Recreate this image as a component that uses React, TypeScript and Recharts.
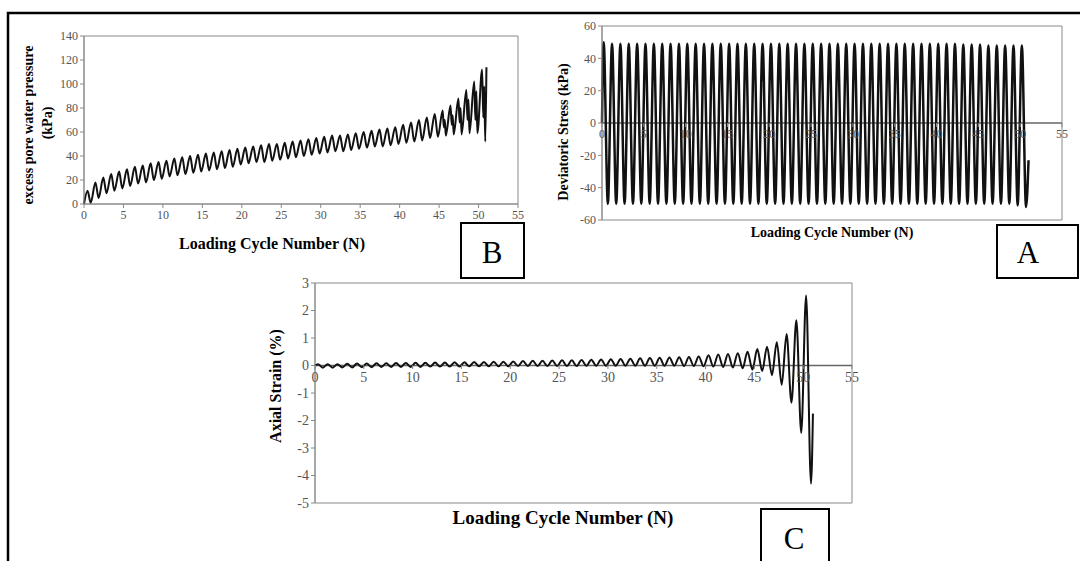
import React from "react";
import { LineChart, Line, XAxis, YAxis, ReferenceArea, ReferenceLine } from "recharts";

const SERIF = '"Liberation Serif", "Times New Roman", serif';
const AXIS = "#8a8a8a";
const TICK_TEXT = "#555";

const cycleTicks = [0, 5, 10, 15, 20, 25, 30, 35, 40, 45, 50, 55];

// B: excess pore water pressure (kPa), one peak / trough per loading cycle
const porePeaks = [
  11, 18, 22, 25, 27, 29, 31, 32, 34, 35,
  36, 38, 39, 40, 41, 42, 43, 44, 45, 46,
  47, 48, 49, 50, 50, 51, 52, 53, 54, 55,
  56, 57, 57, 58, 59, 60, 61, 62, 63, 64,
  66, 68, 70, 72, 75, 78, 82, 88, 95, 102,
  112,
];
const poreTroughs = [
  1, 5, 9, 11, 13, 15, 17, 18, 20, 21,
  23, 24, 25, 26, 27, 28, 29, 30, 31, 33,
  34, 35, 35, 36, 37, 38, 39, 40, 41, 42,
  43, 44, 44, 45, 46, 47, 48, 48, 49, 50,
  51, 52, 53, 55, 56, 57, 58, 58, 59, 59,
  52,
];
// extra wiggle in the last cycles (45..50)
const poreMidTroughs = [64, 66, 68, 70, 70, 72];
const poreSecondPeaks = [70, 74, 80, 87, 94, 98];
const poreLast = 114;

// A: deviatoric stress (kPa)
const stressPeaks = [
  50, 49, 49, 49, 49, 49, 49, 49, 49, 49,
  49, 49, 49, 49, 49, 49, 49, 49, 49, 49,
  49, 49, 49, 49, 49, 49, 49, 49, 49, 49,
  49, 49, 49, 49, 49, 49, 49, 49, 49, 49,
  49, 49, 49, 48.5, 48.5, 48.5, 48, 48, 48, 48,
  48,
];
const stressTroughs = [
  -50, -50, -50, -50, -50, -50, -50, -50, -50, -50,
  -50, -50, -50, -50, -50, -50, -50, -50, -50, -50,
  -50, -50, -50, -50, -50, -50, -50, -50, -50, -50,
  -50, -50, -50, -50, -50, -50, -50, -50, -50, -50,
  -50, -50, -50, -50, -50, -50, -50, -50, -50, -51,
  -52,
];
const stressLast = -23;

// C: axial strain (%)
const strainPeaks = [
  0.05, 0.05, 0.05, 0.06, 0.07, 0.07, 0.08, 0.08, 0.09, 0.09,
  0.1, 0.1, 0.11, 0.11, 0.12, 0.12, 0.13, 0.13, 0.14, 0.14,
  0.15, 0.16, 0.17, 0.17, 0.18, 0.19, 0.19, 0.2, 0.21, 0.22,
  0.23, 0.24, 0.25, 0.26, 0.27, 0.28, 0.29, 0.3, 0.31, 0.33,
  0.37, 0.4, 0.42, 0.45, 0.5, 0.6, 0.68, 0.85, 1.15, 1.65,
  2.55,
];
const strainTroughs = [
  -0.08, -0.08, -0.07, -0.07, -0.06, -0.06, -0.05, -0.05, -0.05, -0.05,
  -0.05, -0.04, -0.04, -0.04, -0.04, -0.03, -0.03, -0.03, -0.03, -0.03,
  -0.02, -0.02, -0.02, -0.02, -0.02, -0.02, -0.02, -0.01, -0.01, -0.01,
  -0.01, -0.01, -0.01, -0.01, -0.01, -0.01, -0.01, -0.02, -0.02, -0.03,
  -0.04, -0.05, -0.07, -0.1, -0.15, -0.2, -0.35, -0.7, -1.35, -2.45,
  -4.3,
];
const strainLast = -1.75;

type Pt = { x: number; y: number };

const poreData: Pt[] = [{ x: 0, y: 0 }];
porePeaks.forEach((p, n) => {
  poreData.push({ x: n + 0.45, y: p });
  if (n >= 45) {
    poreData.push({ x: n + 0.6, y: poreMidTroughs[n - 45] });
    poreData.push({ x: n + 0.72, y: poreSecondPeaks[n - 45] });
  }
  poreData.push({ x: n + 0.85, y: poreTroughs[n] });
});
poreData.push({ x: 51, y: poreLast });

const stressData: Pt[] = [{ x: 0, y: 0 }];
stressPeaks.forEach((p, n) => {
  stressData.push({ x: n + 0.2, y: p });
  stressData.push({ x: n + 0.7, y: stressTroughs[n] });
});
stressData.push({ x: 51, y: stressLast });

const strainData: Pt[] = [{ x: 0, y: 0 }];
strainPeaks.forEach((p, n) => {
  strainData.push({ x: n + 0.3, y: p });
  strainData.push({ x: n + 0.8, y: strainTroughs[n] });
});
strainData.push({ x: 51, y: strainLast });

// x tick labels drawn on the zero line (axis crosses at 0)
const zeroTick = (zeroY: number, fontSize: number) => (props: any) => {
  const { x, payload } = props;
  return (
    <g>
      <line x1={x} x2={x} y1={zeroY} y2={zeroY + 4} stroke={AXIS} />
      <text
        x={x}
        y={zeroY + 3 + fontSize}
        textAnchor="middle"
        fontSize={fontSize}
        fontFamily={SERIF}
        fill={TICK_TEXT}
      >
        {payload.value}
      </text>
    </g>
  );
};

const tickStyle = (size: number) => ({ fontSize: size, fontFamily: SERIF, fill: TICK_TEXT });

export default function App() {
  return (
    <div style={{ position: "absolute", left: 0, top: 0, width: 1080, height: 561, background: "#fff" }}>
      {/* B */}
      <div style={{ position: "absolute", left: 0, top: 0 }}>
        <LineChart width={540} height={280} data={poreData} margin={{ top: 36, right: 22, left: 44, bottom: 52 }}>
          <XAxis
            dataKey="x"
            type="number"
            domain={[0, 55]}
            ticks={cycleTicks}
            interval={0}
            height={24}
            tickSize={4}
            tick={tickStyle(12)}
            stroke={AXIS}
          />
          <YAxis
            type="number"
            domain={[0, 140]}
            ticks={[0, 20, 40, 60, 80, 100, 120, 140]}
            interval={0}
            width={40}
            tickSize={4}
            tick={tickStyle(12)}
            stroke={AXIS}
          />
          <ReferenceArea x1={0} x2={55} y1={0} y2={140} fill="none" stroke={AXIS} />
          <Line
            dataKey="y"
            type="monotone"
            stroke="#111"
            strokeWidth={2}
            dot={false}
            isAnimationActive={false}
          />
        </LineChart>
      </div>

      {/* A */}
      <div style={{ position: "absolute", left: 540, top: 0 }}>
        <LineChart width={540} height={280} data={stressData} margin={{ top: 26, right: 18, left: 32, bottom: 36 }}>
          <XAxis
            dataKey="x"
            type="number"
            domain={[0, 55]}
            ticks={cycleTicks}
            interval={0}
            height={24}
            axisLine={false}
            tickLine={false}
            tick={zeroTick(123, 12)}
          />
          <YAxis
            type="number"
            domain={[-60, 60]}
            ticks={[-60, -40, -20, 0, 20, 40, 60]}
            interval={0}
            width={30}
            tickSize={4}
            tick={tickStyle(12)}
            stroke={AXIS}
          />
          <ReferenceArea x1={0} x2={55} y1={-60} y2={60} fill="none" stroke={AXIS} />
          <ReferenceLine y={0} stroke="#666" strokeWidth={1.5} />
          <Line
            dataKey="y"
            type="monotone"
            stroke="#111"
            strokeWidth={2.5}
            dot={false}
            isAnimationActive={false}
          />
        </LineChart>
      </div>

      {/* C */}
      <div style={{ position: "absolute", left: 260, top: 270 }}>
        <LineChart width={620} height={291} data={strainData} margin={{ top: 13, right: 28, left: 25, bottom: 34 }}>
          <XAxis
            dataKey="x"
            type="number"
            domain={[0, 55]}
            ticks={cycleTicks}
            interval={0}
            height={24}
            axisLine={false}
            tickLine={false}
            tick={zeroTick(95, 14)}
          />
          <YAxis
            type="number"
            domain={[-5, 3]}
            ticks={[-5, -4, -3, -2, -1, 0, 1, 2, 3]}
            interval={0}
            width={30}
            tickSize={4}
            tick={tickStyle(14)}
            stroke={AXIS}
          />
          <ReferenceArea x1={0} x2={55} y1={-5} y2={3} fill="none" stroke={AXIS} />
          <ReferenceLine y={0} stroke="#666" strokeWidth={1.5} />
          <Line
            dataKey="y"
            type="monotone"
            stroke="#111"
            strokeWidth={2}
            dot={false}
            isAnimationActive={false}
          />
        </LineChart>
      </div>

      {/* frame, titles and panel letters */}
      <svg
        width={1080}
        height={561}
        style={{ position: "absolute", left: 0, top: 0, pointerEvents: "none" }}
        fontFamily={SERIF}
      >
        <path d="M8,561 L8,13 L1080,13" fill="none" stroke="#000" strokeWidth={2.5} />

        <text x={272} y={249} textAnchor="middle" fontSize={16} fontWeight="bold">
          Loading Cycle Number (N)
        </text>
        <text transform="rotate(-90 33 125)" x={33} y={125} textAnchor="middle" fontSize={14} fontWeight="bold">
          excess pore water pressure
        </text>
        <text transform="rotate(-90 52 123)" x={52} y={123} textAnchor="middle" fontSize={14} fontWeight="bold">
          (kPa)
        </text>

        <text x={832} y={237} textAnchor="middle" fontSize={14} fontWeight="bold">
          Loading Cycle Number (N)
        </text>
        <text transform="rotate(-90 568 132)" x={568} y={132} textAnchor="middle" fontSize={14} fontWeight="bold">
          Deviatoric Stress (kPa)
        </text>

        <text x={563} y={524} textAnchor="middle" fontSize={19} fontWeight="bold">
          Loading Cycle Number (N)
        </text>
        <text transform="rotate(-90 281 386)" x={281} y={386} textAnchor="middle" fontSize={16} fontWeight="bold">
          Axial Strain (%)
        </text>

        <rect x={461} y={223} width={63} height={55} fill="#fff" stroke="#000" strokeWidth={2} />
        <text x={492} y={263} textAnchor="middle" fontSize={31}>B</text>

        <rect x={997} y={225} width={81} height={53} fill="#fff" stroke="#000" strokeWidth={2} />
        <text x={1028} y={263} textAnchor="middle" fontSize={31}>A</text>

        <rect x={761} y={509} width={68} height={60} fill="#fff" stroke="#000" strokeWidth={2} />
        <text x={794} y={549} textAnchor="middle" fontSize={31}>C</text>
      </svg>
    </div>
  );
}
